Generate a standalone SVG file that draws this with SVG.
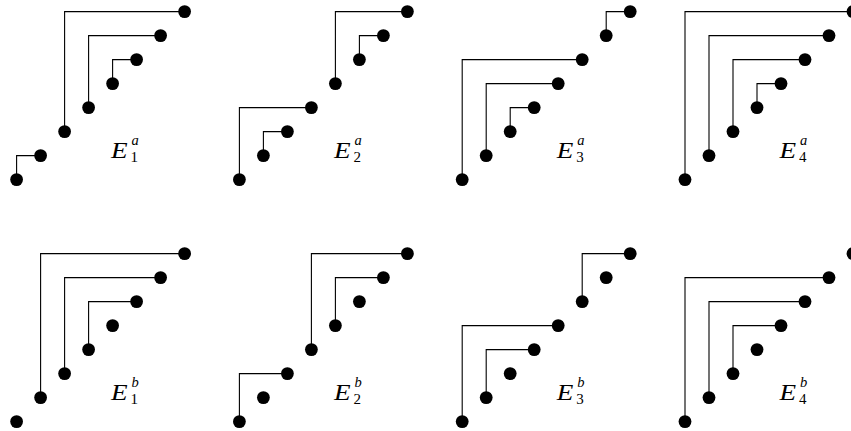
<svg xmlns="http://www.w3.org/2000/svg" xmlns:xlink="http://www.w3.org/1999/xlink" width="851" height="431" viewBox="0 0 851 431">
<style>
.bg{fill:#fff}
.c path{fill:none;stroke:#000;stroke-width:1.1}
.n circle{fill:#000}
.E{font-family:"Liberation Serif","DejaVu Serif",serif;font-style:italic;font-size:23px;fill:#000}
.sup{font-family:"Liberation Serif","DejaVu Serif",serif;font-style:italic;font-size:14.5px;fill:#000}
.sub{font-family:"Liberation Serif","DejaVu Serif",serif;font-size:15px;fill:#000}
</style>
<defs>
<g id="dots" class="n">
<circle cx="0" cy="168" r="6.4"/><circle cx="24" cy="144" r="6.4"/><circle cx="48" cy="120" r="6.4"/><circle cx="72" cy="96" r="6.4"/><circle cx="96" cy="72" r="6.4"/><circle cx="120" cy="48" r="6.4"/><circle cx="144" cy="24" r="6.4"/><circle cx="168" cy="0" r="6.4"/>
</g>
</defs>
<rect class="bg" x="0" y="0" width="851" height="431"/>

<g id="connectors" class="c">
<g transform="translate(16.6,11.6)"><path d="M0 168V144H24M48 120V0H168M72 96V24H144M96 72V48H120"/></g>
<g transform="translate(239.4,11.6)"><path d="M0 168V96H72M24 144V120H48M96 72V0H168M120 48V24H144"/></g>
<g transform="translate(462.2,11.6)"><path d="M0 168V48H120M24 144V72H96M48 120V96H72M144 24V0H168"/></g>
<g transform="translate(685,11.6)"><path d="M0 168V0H168M24 144V24H144M48 120V48H120M72 96V72H96"/></g>
<g transform="translate(16.6,253.6)"><path d="M24 144V0H168M48 120V24H144M72 96V48H120"/></g>
<g transform="translate(239.4,253.6)"><path d="M0 168V120H48M72 96V0H168M96 72V24H144"/></g>
<g transform="translate(462.2,253.6)"><path d="M0 168V72H96M24 144V96H72M120 48V0H168"/></g>
<g transform="translate(685,253.6)"><path d="M0 168V24H144M24 144V48H120M48 120V72H96"/></g>
</g>

<g id="E1a" transform="translate(16.6,11.6)"><use xlink:href="#dots"/><text class="E" transform="translate(94.5,146) scale(1.18,1)">E</text><text class="sup" x="115" y="133">a</text><text class="sub" x="114" y="150.5">1</text></g>
<g id="E2a" transform="translate(239.4,11.6)"><use xlink:href="#dots"/><text class="E" transform="translate(94.5,146) scale(1.18,1)">E</text><text class="sup" x="115" y="133">a</text><text class="sub" x="114" y="150.5">2</text></g>
<g id="E3a" transform="translate(462.2,11.6)"><use xlink:href="#dots"/><text class="E" transform="translate(94.5,146) scale(1.18,1)">E</text><text class="sup" x="115" y="133">a</text><text class="sub" x="114" y="150.5">3</text></g>
<g id="E4a" transform="translate(685,11.6)"><use xlink:href="#dots"/><text class="E" transform="translate(94.5,146) scale(1.18,1)">E</text><text class="sup" x="115" y="133">a</text><text class="sub" x="114" y="150.5">4</text></g>

<g id="E1b" transform="translate(16.6,253.6)"><use xlink:href="#dots"/><text class="E" transform="translate(94.5,146) scale(1.18,1)">E</text><text class="sup" x="115" y="133">b</text><text class="sub" x="114" y="150.5">1</text></g>
<g id="E2b" transform="translate(239.4,253.6)"><use xlink:href="#dots"/><text class="E" transform="translate(94.5,146) scale(1.18,1)">E</text><text class="sup" x="115" y="133">b</text><text class="sub" x="114" y="150.5">2</text></g>
<g id="E3b" transform="translate(462.2,253.6)"><use xlink:href="#dots"/><text class="E" transform="translate(94.5,146) scale(1.18,1)">E</text><text class="sup" x="115" y="133">b</text><text class="sub" x="114" y="150.5">3</text></g>
<g id="E4b" transform="translate(685,253.6)"><use xlink:href="#dots"/><text class="E" transform="translate(94.5,146) scale(1.18,1)">E</text><text class="sup" x="115" y="133">b</text><text class="sub" x="114" y="150.5">4</text></g>
</svg>
